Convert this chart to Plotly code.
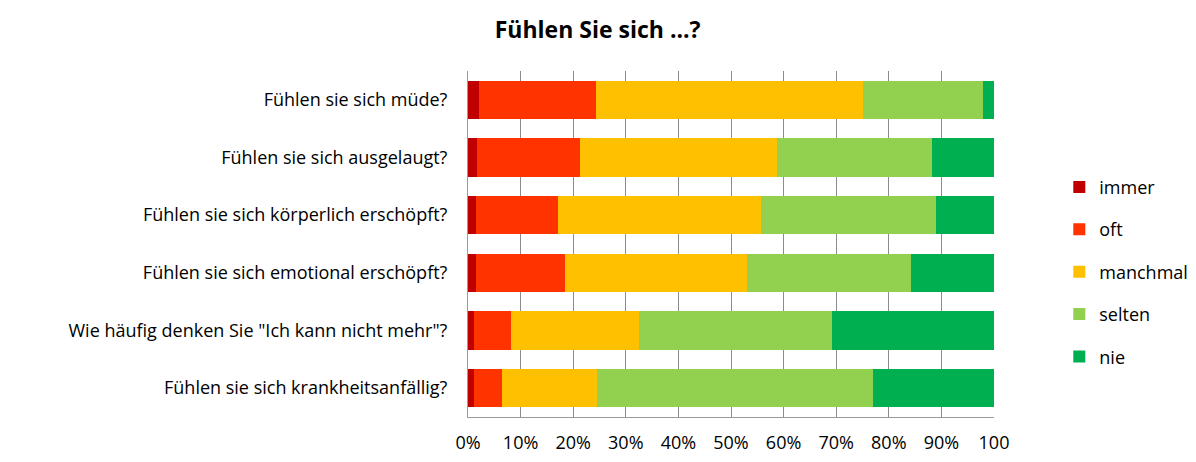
import plotly.graph_objects as go

categories = [
    "Fühlen sie sich müde?",
    "Fühlen sie sich ausgelaugt?",
    "Fühlen sie sich körperlich erschöpft?",
    "Fühlen sie sich emotional erschöpft?",
    "Wie häufig denken Sie \"Ich kann nicht mehr\"?",
    "Fühlen sie sich krankheitsanfällig?",
]
immer = [2.0, 1.8, 1.6, 1.6, 1.2, 1.2]
oft = [22.3, 19.4, 15.6, 16.8, 6.9, 5.2]
manchmal = [50.8, 37.6, 38.5, 34.6, 24.4, 18.2]
selten = [22.9, 29.5, 33.2, 31.3, 36.7, 52.4]
nie = [2.0, 11.7, 11.1, 15.7, 30.8, 23.0]

series_names = ["immer", "oft", "manchmal", "selten", "nie"]
series_values = [immer, oft, manchmal, selten, nie]
colors = ["#C00000", "#FF3300", "#FFC000", "#92D050", "#00B050"]

tick_vals = [0, 10, 20, 30, 40, 50, 60, 70, 80, 90, 100]
tick_text = ["0%", "10%", "20%", "30%", "40%", "50%", "60%", "70%", "80%", "90%", "100"]

FONT = "Open Sans"

fig = go.Figure()
for name, vals, col in zip(series_names, series_values, colors):
    fig.add_trace(go.Bar(
        y=categories, x=vals, name=name, orientation="h",
        marker=dict(color=col, line=dict(width=0)),
        legendgroup=name,
    ))

fig.update_layout(
    width=1196, height=462,
    barmode="stack", bargap=0.33,
    paper_bgcolor="white", plot_bgcolor="white",
    margin=dict(l=460, r=209, t=63, b=53),
    font=dict(family=FONT, size=17, color="#000000"),
    title=dict(text="<b>Fühlen Sie sich ...?</b>", x=0.493, xanchor="center",
               xref="container", y=0.952, yanchor="middle",
               font=dict(size=23, family=FONT)),
    legend=dict(x=1.122, xanchor="left", xref="paper", y=0.42, yanchor="middle",
                traceorder="grouped", tracegroupgap=16,
                font=dict(size=18, family=FONT), itemwidth=30),
    showlegend=True,
)
fig.update_xaxes(range=[0, 100], tickvals=tick_vals, ticktext=tick_text,
                 showgrid=True, gridcolor="#8c8c8c", gridwidth=1,
                 showline=True, linecolor="#9a9a9a", linewidth=1,
                 ticks="outside", ticklen=0, ticklabelstandoff=9,
                 tickfont=dict(size=18), zeroline=False, layer="below traces")
fig.update_yaxes(autorange="reversed", showgrid=False,
                 showline=True, linecolor="#9a9a9a", linewidth=1,
                 ticks="", ticklabelstandoff=16, tickfont=dict(size=18))

fig.write_html("out.html")
